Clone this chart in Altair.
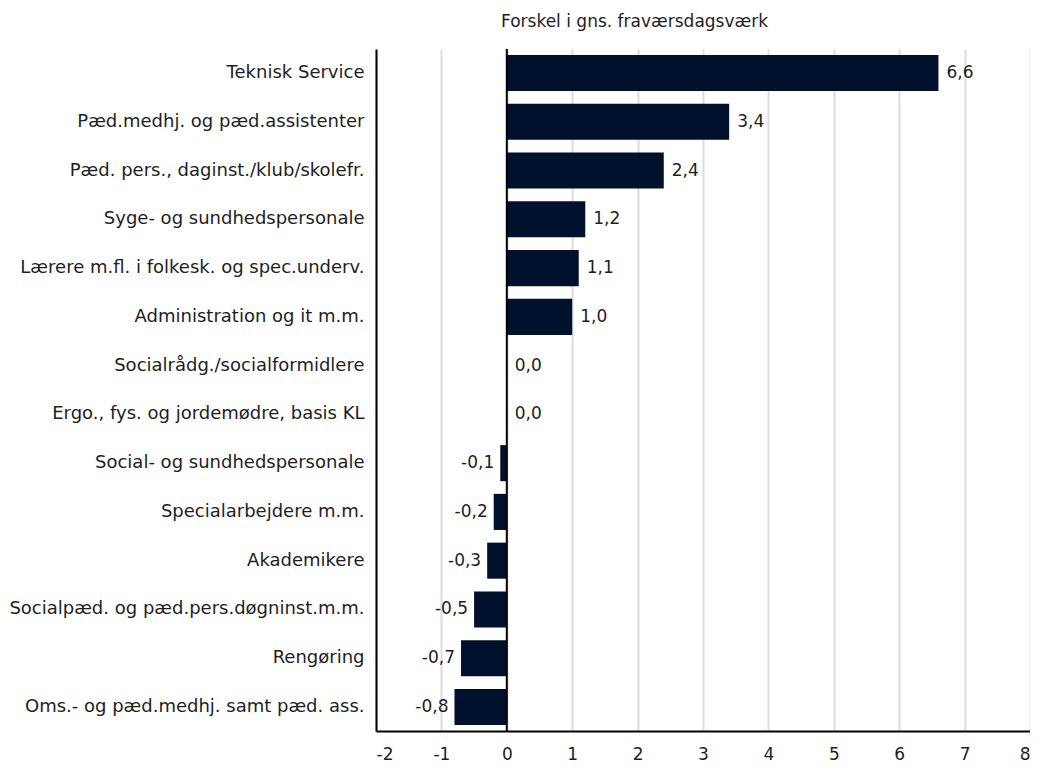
import altair as alt
import pandas as pd

categories = [
    "Teknisk Service",
    "Pæd.medhj. og pæd.assistenter",
    "Pæd. pers., daginst./klub/skolefr.",
    "Syge- og sundhedspersonale",
    "Lærere m.fl. i folkesk. og spec.underv.",
    "Administration og it m.m.",
    "Socialrådg./socialformidlere",
    "Ergo., fys. og jordemødre, basis KL",
    "Social- og sundhedspersonale",
    "Specialarbejdere m.m.",
    "Akademikere",
    "Socialpæd. og pæd.pers.døgninst.m.m.",
    "Rengøring",
    "Oms.- og pæd.medhj. samt pæd. ass.",
]
values = [6.6, 3.4, 2.4, 1.2, 1.1, 1.0, 0.0, 0.0, -0.1, -0.2, -0.3, -0.5, -0.7, -0.8]
labels = ["6,6", "3,4", "2,4", "1,2", "1,1", "1,0", "0,0", "0,0", "-0,1", "-0,2", "-0,3", "-0,5", "-0,7", "-0,8"]
x_ticks = [-2, -1, 0, 1, 2, 3, 4, 5, 6, 7, 8]

df = pd.DataFrame({"cat": categories, "v": values, "lab": labels})

FONT = "DejaVu Sans"
FS = 18
BAR = "#00112e"
TXT = "#1e1e1e"

xscale = alt.Scale(domain=[-2, 8], nice=False, zero=False)
yscale = alt.Scale(domain=categories, paddingInner=0.26, paddingOuter=0.123)

base = alt.Chart(df)

bars = base.mark_bar(color=BAR).encode(
    x=alt.X("v:Q", scale=xscale,
            axis=alt.Axis(values=x_ticks, format="d", title=None, grid=True, gridColor="#dcdcdc",
                          gridWidth=2, domainColor="#000000", domainWidth=2, ticks=False,
                          labelFont=FONT, labelFontSize=FS - 1, labelColor=TXT, labelPadding=15,
                          labelExpr="replace(datum.label, '−', '-')")),
    x2=alt.datum(0),
    y=alt.Y("cat:N", scale=yscale, sort=categories,
            axis=alt.Axis(title=None, ticks=False, domainColor="#000000", domainWidth=2,
                          labelFont=FONT, labelFontSize=FS, labelColor=TXT, labelPadding=12,
                          labelLimit=500)),
)

zero = alt.Chart(pd.DataFrame({"z": [0]})).mark_rule(color="#000000", strokeWidth=2).encode(
    x=alt.X("z:Q", scale=xscale)
)

pos_text = base.transform_filter("datum.v >= 0").mark_text(
    align="left", baseline="middle", dx=8, font=FONT, fontSize=FS - 1, color=TXT
).encode(x=alt.X("v:Q", scale=xscale), y=alt.Y("cat:N", scale=yscale, sort=categories), text="lab:N")

neg_text = base.transform_filter("datum.v < 0").mark_text(
    align="right", baseline="middle", dx=-6, font=FONT, fontSize=FS - 1, color=TXT
).encode(x=alt.X("v:Q", scale=xscale), y=alt.Y("cat:N", scale=yscale, sort=categories), text="lab:N")

chart = alt.layer(bars, zero, pos_text, neg_text).properties(
    width=1022, height=754,
    autosize=alt.AutoSizeParams(type="fit", contains="padding"),
    padding={"left": 0, "right": 0, "top": 5, "bottom": 0},
    title=alt.TitleParams("Forskel i gns. fraværsdagsværk", anchor="start", frame="group", dx=125,
                          font=FONT, fontSize=FS - 1, fontWeight="normal", color=TXT, offset=17),
).configure_view(stroke=None)

chart.save("out.html", embed_options={"renderer": "svg", "actions": False})
